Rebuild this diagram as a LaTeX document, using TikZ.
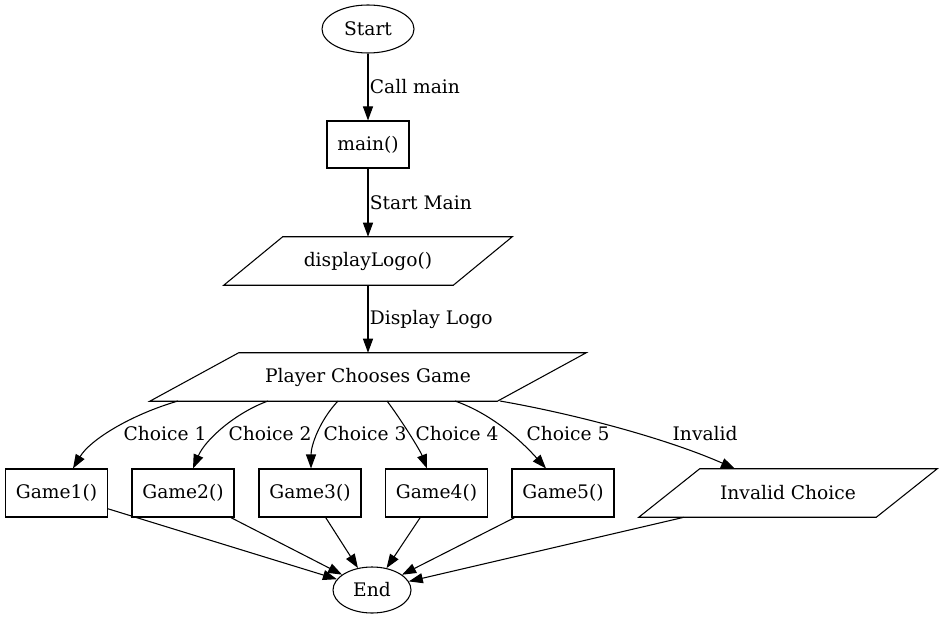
\documentclass[tikz,border=0pt]{standalone}
\usepackage{fontspec}
\setmainfont{DejaVu Serif}
\usetikzlibrary{shapes.geometric,arrows.meta,calc}

\begin{document}
\begin{tikzpicture}[
  x=0.75pt, y=-0.75pt,
  every node/.style={font=\fontsize{14pt}{16pt}\selectfont},
  term/.style={ellipse, draw, inner sep=0pt, line width=0.8pt},
  proc/.style={rectangle, draw, inner sep=0pt, line width=0.8pt,
    minimum width=76.5pt, minimum height=36pt},
  % slanted box: base width, half skew (px)
  io/.style n args={2}{rectangle, inner sep=0pt, minimum height=36pt,
    minimum width=#1,
    append after command={\pgfextra{\draw[line width=0.8pt]
      ($(\tikzlastnode.south west)+(-#2,0)$) --
      ($(\tikzlastnode.south east)+(-#2,0)$) --
      ($(\tikzlastnode.north east)+(#2,0)$) --
      ($(\tikzlastnode.north west)+(#2,0)$) -- cycle;}}},
  arr/.style={-{Triangle[length=10.5pt,width=7.5pt]}, line width=0.8pt},
  lbl/.style={inner sep=1pt},
]
  \fill[white] (0,0) rectangle (944,620);
  \useasboundingbox (0,0) rectangle (944,620);

  % Top of the chart
  \node[term, minimum width=69pt, minimum height=36pt] (start) at (368,29) {Start};
  \node[proc, minimum width=61.5pt, minimum height=35.25pt] (mainfn) at (368,144.5) {main()};
  \node[io={171.75pt}{29.5}] (logo) at (368,261) {displayLogo()};
  \node[io={260.25pt}{44.5}] (choose) at (368,377) {Player Chooses Game};

  \draw[arr] (start) -- node[lbl, right] {Call main} (mainfn);
  \draw[arr] (mainfn) -- node[lbl, right] {Start Main} (logo);
  \draw[arr] (logo) -- node[lbl, right] {Display Logo} (choose);

  % Games
  \node[proc] (game1) at (56.5,493) {Game1()};
  \node[proc] (game2) at (183,493) {Game2()};
  \node[proc] (game3) at (310,493) {Game3()};
  \node[proc] (game4) at (436.5,493) {Game4()};
  \node[proc] (game5) at (563,493) {Game5()};
  \node[io={177.75pt}{30.5}] (invalid) at (788,493) {Invalid Choice};

  % Choices
  \draw[arr] ($(choose.center)+(-190,24)$) .. controls (130,415) and (90,440) ..
    ($(game1.north)+(16.5,0)$);
  \draw[arr] ($(choose.center)+(-100,24)$) .. controls (235,413) and (205,440) ..
    ($(game2.north)+(10,0)$);
  \draw[arr] ($(choose.center)+(-30,24)$) .. controls (320,420) and (311,445) ..
    ($(game3.north)+(1,0)$);
  \draw[arr] ($(choose.center)+(19,24)$) .. controls (400,418) and (420,450) ..
    ($(game4.north)+(-9.5,0)$);
  \draw[arr] ($(choose.center)+(87,24)$) .. controls (495,415) and (525,445) ..
    ($(game5.north)+(-17,0)$);
  \draw[arr] ($(choose.center)+(132,24)$) .. controls (580,415) and (670,440) ..
    ($(invalid.north)+(-53,0)$);

  \node[lbl, anchor=west] (c1) at (122,434) {Choice 1};
  \node[lbl, anchor=west] (c2) at (227,434) {Choice 2};
  \node[lbl, anchor=west] (c3) at (322,434) {Choice 3};
  \node[lbl, anchor=west] (c4) at (414,434) {Choice 4};
  \node[lbl, anchor=west] (c5) at (525,434) {Choice 5};
  \node[lbl, anchor=west] (ci) at (671,434) {Invalid};

  % End
  \node[term, minimum width=58.5pt, minimum height=34.5pt] (stop) at (372,590) {End};
  \foreach \g in {game1,game2,game3,game4,game5,invalid}
    \draw[arr] (\g) -- (stop);
\end{tikzpicture}
\end{document}
